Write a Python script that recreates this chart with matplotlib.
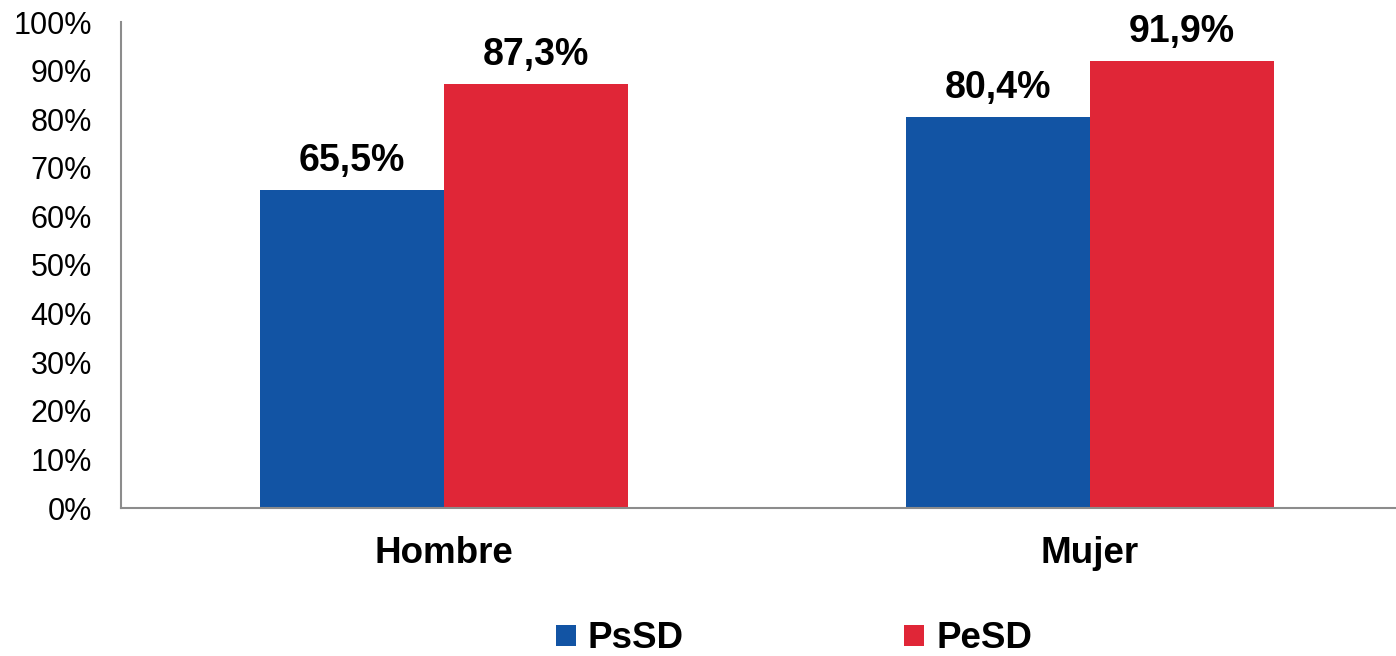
import matplotlib
matplotlib.use("Agg")
import matplotlib.pyplot as plt
import numpy as np

plt.rcParams['font.family'] = ['Liberation Sans', 'DejaVu Sans']

categories = ["Hombre", "Mujer"]
series_names = ["PsSD", "PeSD"]
psSD = [65.5, 80.4]
peSD = [87.3, 91.9]
colors = ["#1254A4", "#E02637"]
yticks = [0, 10, 20, 30, 40, 50, 60, 70, 80, 90, 100]

W, H = 1396, 656
fig = plt.figure(figsize=(W / 100, H / 100), dpi=100)
ax = fig.add_axes([121 / W, 1 - 508 / H, (1413 - 121) / W, (508 - 22) / H])

x = np.arange(len(categories))
bw = 184 / 646
b1 = ax.bar(x - bw / 2, psSD, bw, color=colors[0], label=series_names[0])
b2 = ax.bar(x + bw / 2, peSD, bw, color=colors[1], label=series_names[1])

for bars, vals in ((b1, psSD), (b2, peSD)):
    for r, v in zip(bars, vals):
        ax.annotate(f"{v:.1f}%".replace(".", ","), (r.get_x() + r.get_width() / 2, v),
                    xytext=(0, 8), textcoords="offset points", ha="center", va="bottom",
                    fontsize=27, fontweight="bold")

ax.set_xlim(-0.5, 1.5)
ax.set_ylim(0, 100)
ax.set_yticks(yticks)
ax.set_yticklabels([f"{t}%" for t in yticks], fontsize=22)
ax.set_xticks(x)
ax.set_xticklabels(categories, fontsize=26.5, fontweight="bold")
ax.tick_params(axis="y", length=0, pad=21)
ax.tick_params(axis="x", length=0, pad=20)
for s in ("top", "right"):
    ax.spines[s].set_visible(False)
for s in ("left", "bottom"):
    ax.spines[s].set_color("#8c8c8c")
    ax.spines[s].set_linewidth(1.5)

leg = fig.legend(loc="center", bbox_to_anchor=(794 / W, 1 - 639 / H), ncol=2, frameon=False,
                 prop={"size": 26.5, "weight": "bold"}, handlelength=0.53, handleheight=0.53,
                 handletextpad=0.33, columnspacing=6.0, borderpad=0, borderaxespad=0)

fig.savefig("out.png", dpi=100)
